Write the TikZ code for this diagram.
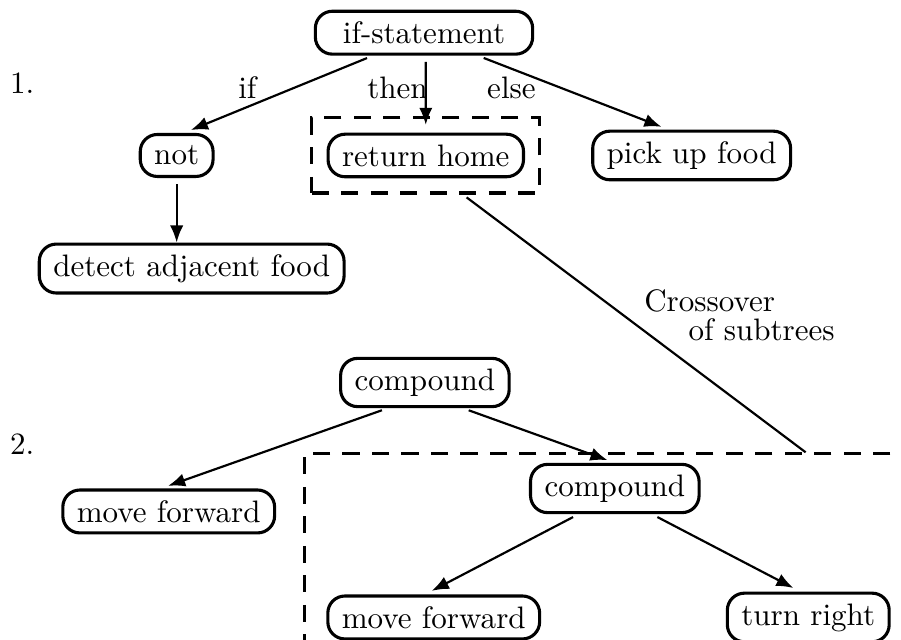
\documentclass[tikz,border=0pt]{standalone}
\usepackage{xcolor}
\usepackage{tikz}
\usetikzlibrary{shapes, arrows.meta, positioning}
\usepackage{amsmath}
\usepackage{amssymb}

\begin{document}
\begin{tikzpicture}[
            treenode/.style={draw, rectangle, rounded corners=5.5pt, line width=1pt, inner xsep=4.5pt, minimum height=0.475cm},
            branch/.style={-{Latex[length=5.5pt, width=4.3pt]}, line width=0.7pt, shorten <=2pt, shorten >=2.5pt},
            subtree/.style={draw, dash pattern=on 5.5pt off 4pt, line width=1pt}
        ]
            \useasboundingbox (0,0) rectangle (10.20,-7.24);
            \node[treenode, minimum width=2.46cm] (ifst) at (4.80,-0.37) {if-statement};
            \node[treenode] (not) at (2.00,-1.76) {not};
            \node[treenode] (ret) at (4.82,-1.76) {return home};
            \node[treenode] (pick) at (7.83,-1.76) {pick up food};
            \node[treenode] (detect) at (2.17,-3.04) {detect adjacent food};
            \node[subtree, minimum width=2.58cm, minimum height=0.85cm] (sub1) at (ret) {};
            \node[anchor=base] (lone) at (0.25,-1.06) {1.};
            \node[anchor=base] (lif) at (2.80,-1.11) {if};
            \node[anchor=base] (lthen) at (4.50,-1.11) {then};
            \node[anchor=base] (lelse) at (5.79,-1.11) {else};
            \draw[branch] ([xshift=-0.58cm]ifst.south) -- ([xshift=0.08cm]not.north);
            \draw[branch] ([xshift=0.02cm]ifst.south) -- (ret.north);
            \draw[branch] ([xshift=0.61cm]ifst.south) -- ([xshift=-0.26cm]pick.north);
            \draw[branch, shorten >=0pt] (not.south) -- (not.south |- detect.north);

            \node[treenode] (comp) at (4.81,-4.33) {compound};
            \node[treenode] (movel) at (1.91,-5.79) {move forward};
            \node[treenode] (compb) at (6.96,-5.53) {compound};
            \node[treenode] (moveb) at (4.91,-6.99) {move forward};
            \node[treenode] (turn) at (9.15,-6.99) {turn right};
            \node[anchor=base] (ltwo) at (0.25,-5.14) {2.};
            \draw[subtree] (10.08,-5.13) -- (3.45,-5.13) -- (3.45,-7.24);
            \coordinate (sub2) at (9.12,-5.12);
            \draw[branch] ([xshift=-0.42cm]comp.south) -- ([xshift=-0.09cm]movel.north);
            \draw[branch] ([xshift=0.43cm]comp.south) -- (compb.north);
            \draw[branch] ([xshift=-0.41cm]compb.south) -- ([xshift=-0.10cm]moveb.north);
            \draw[branch] ([xshift=0.42cm]compb.south) -- ([xshift=-0.09cm]turn.north);

            \draw[line width=0.7pt, shorten <=1.5pt] ([xshift=0.42cm]sub1.south) -- (sub2);
            \node[anchor=base west] (lcross) at (7.17,-3.53) {Crossover};
            \node[anchor=base west] (lsub) at (7.67,-3.85) {of subtrees};
        \end{tikzpicture}
\end{document}
